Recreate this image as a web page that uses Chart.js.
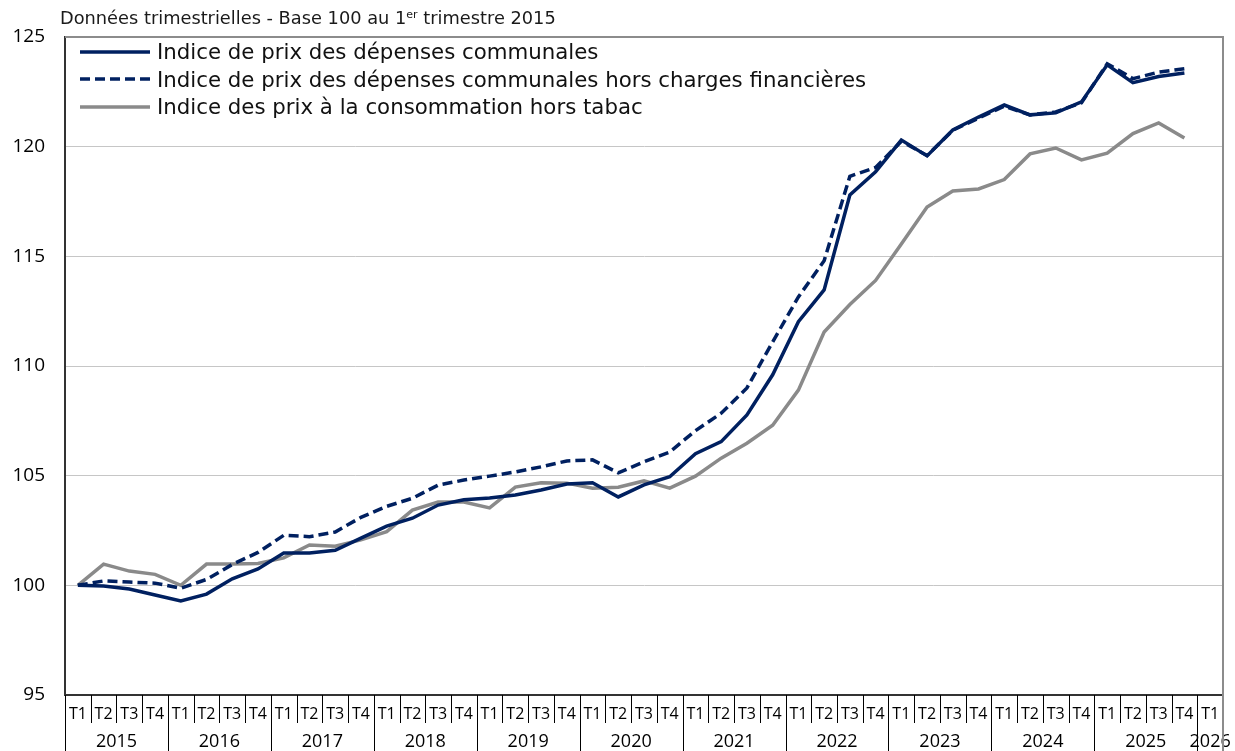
<!DOCTYPE html>
<html lang="fr">
<head>
<meta charset="utf-8">
<title>Indice de prix des dépenses communales</title>
<script src="https://cdn.jsdelivr.net/npm/chart.js@4.4.1/dist/chart.umd.min.js"></script>
<style>
  body { margin: 0; background: #fff; }
  #wrap { position: relative; width: 1235px; height: 751px; }
  #subtitle {
    position: absolute; left: 60px; top: 7px;
    font: 17.8px "DejaVu Sans", sans-serif; color: #1a1a1a; white-space: nowrap;
  }
  #subtitle sup { font-size: 11px; vertical-align: 6px; line-height: 0; }
  #legend {
    position: absolute; left: 80px; top: 38px;
    font: 21.3px "DejaVu Sans", sans-serif; color: #111;
  }
  #legend .row { display: flex; align-items: center; height: 27.5px; white-space: nowrap; }
  #legend svg { margin-right: 7px; flex: none; }
</style>
</head>
<body>
<div id="wrap">
  <canvas id="chart"></canvas>
  <div id="subtitle">Données trimestrielles - Base 100 au 1<sup>er</sup> trimestre 2015</div>
  <div id="legend"></div>
</div>
<script>
const years = ["2015", "2016", "2017", "2018", "2019", "2020", "2021", "2022", "2023", "2024", "2025", "2026"];
const quarters = ["T1", "T2", "T3", "T4"];
// one category per quarter, 2015 T1 .. 2026 T1
const quarterLabels = [];
years.forEach((y, i) => {
  const n = i === years.length - 1 ? 1 : 4;
  for (let q = 0; q < n; q++) quarterLabels.push(quarters[q]);
});

const seriesNames = [
  "Indice de prix des dépenses communales",
  "Indice de prix des dépenses communales hors charges financières",
  "Indice des prix à la consommation hors tabac",
];
const depensesCommunales = [
  100.0, 99.97, 99.83, 99.56, 99.29, 99.6, 100.3, 100.75,
  101.47, 101.47, 101.6, 102.15, 102.7, 103.06, 103.66, 103.9,
  103.98, 104.12, 104.35, 104.62, 104.68, 104.03, 104.58, 104.95,
  106.0, 106.55, 107.77, 109.6, 112.02, 113.47, 117.8, 118.85,
  120.3, 119.58, 120.76, 121.35, 121.9, 121.45, 121.54, 122.04,
  123.73, 122.92, 123.2, 123.36
];
const horsChargesFin = [
  100.0, 100.2, 100.15, 100.1, 99.87, 100.27, 100.95, 101.5,
  102.28, 102.22, 102.43, 103.1, 103.6, 103.97, 104.57, 104.8,
  104.98, 105.17, 105.4, 105.67, 105.72, 105.13, 105.63, 106.08,
  107.05, 107.85, 109.0, 111.1, 113.15, 114.8, 118.65, 119.05,
  120.25, 119.6, 120.75, 121.3, 121.85, 121.45, 121.58, 122.0,
  123.78, 123.1, 123.4, 123.55
];
const ipcHorsTabac = [
  100.0, 100.97, 100.65, 100.5, 100.0, 100.97, 100.97, 101.0,
  101.25, 101.84, 101.78, 102.07, 102.45, 103.43, 103.8, 103.8,
  103.53, 104.48, 104.68, 104.66, 104.43, 104.47, 104.76, 104.43,
  104.98, 105.8, 106.48, 107.3, 108.9, 111.55, 112.8, 113.9,
  115.56, 117.25, 117.98, 118.07, 118.5, 119.67, 119.94, 119.4,
  119.7, 120.6, 121.08, 120.4
];

const NAVY = "#002060";
const GREY = "#8a8a8a";
const DASH = [10, 5];

Chart.defaults.font.family = "'Open Sans', sans-serif";
Chart.defaults.color = "#000";

// frame, quarter/year separators and year labels under the x axis
const axisDecor = {
  id: "axisDecor",
  afterDraw(chart) {
    const { ctx, chartArea: a, scales: { x } } = chart;
    const n = quarterLabels.length;
    const step = x.getPixelForValue(1) - x.getPixelForValue(0);
    ctx.save();

    ctx.strokeStyle = "#000";
    ctx.lineWidth = 1;
    for (let i = 0; i < n; i++) {
      const px = Math.round(x.getPixelForValue(i) - step / 2) + 0.5;
      ctx.beginPath();
      ctx.moveTo(px, a.bottom);
      ctx.lineTo(px, i % 4 === 0 ? chart.height : a.bottom + 28);
      ctx.stroke();
    }

    ctx.fillStyle = "#000";
    ctx.font = "18px 'Open Sans', sans-serif";
    ctx.textAlign = "center";
    ctx.textBaseline = "middle";
    years.forEach((y, k) => {
      const first = k * 4;
      const last = Math.min(first + 3, n - 1);
      const cx = (x.getPixelForValue(first) + x.getPixelForValue(last)) / 2;
      ctx.fillText(y, cx, a.bottom + 47);
    });

    ctx.strokeStyle = "#8c8c8c";
    ctx.lineWidth = 2;
    ctx.beginPath();
    ctx.moveTo(a.left, a.top);
    ctx.lineTo(a.right, a.top);
    ctx.lineTo(a.right, chart.height);
    ctx.stroke();
    ctx.restore();
  }
};

const chart = new Chart(document.getElementById("chart"), {
  type: "line",
  data: {
    labels: quarterLabels,
    datasets: [
      { label: seriesNames[0], data: depensesCommunales, borderColor: NAVY, borderWidth: 3.5 },
      { label: seriesNames[1], data: horsChargesFin, borderColor: NAVY, borderWidth: 3.5, borderDash: DASH },
      { label: seriesNames[2], data: ipcHorsTabac, borderColor: GREY, borderWidth: 3.5 },
    ],
  },
  options: {
    responsive: true,
    maintainAspectRatio: false,
    animation: false,
    elements: { point: { radius: 0 }, line: { tension: 0 } },
    layout: { padding: { left: 0, right: 12, top: 37, bottom: 28 } },
    scales: {
      x: {
        offset: true,
        grid: { display: true, drawOnChartArea: false, drawTicks: false },
        border: { color: "#333", width: 2 },
        ticks: { autoSkip: false, maxRotation: 0, padding: 10, font: { size: 16 } },
        afterFit(scale) { scale.height = 28; },
      },
      y: {
        min: 95,
        max: 125,
        grid: { color: "#c6c6c6", lineWidth: 1, drawTicks: false },
        border: { color: "#333", width: 2 },
        ticks: { stepSize: 5, padding: 20, font: { size: 19 } },
        afterFit(scale) { scale.width = 65; },
      },
    },
    plugins: {
      tooltip: { enabled: false },
      legend: { display: false },
    },
  },
  plugins: [axisDecor],
});

// legend drawn in html, top left inside the plot
document.getElementById("legend").innerHTML = chart.data.datasets.map((d) => `
  <div class="row">
    <svg width="70" height="8"><line x1="0" y1="4" x2="70" y2="4" stroke="${d.borderColor}"
      stroke-width="${d.borderWidth}" stroke-dasharray="${(d.borderDash || []).join(" ")}"/></svg>
    <span>${d.label}</span>
  </div>`).join("");
</script>
</body>
</html>
